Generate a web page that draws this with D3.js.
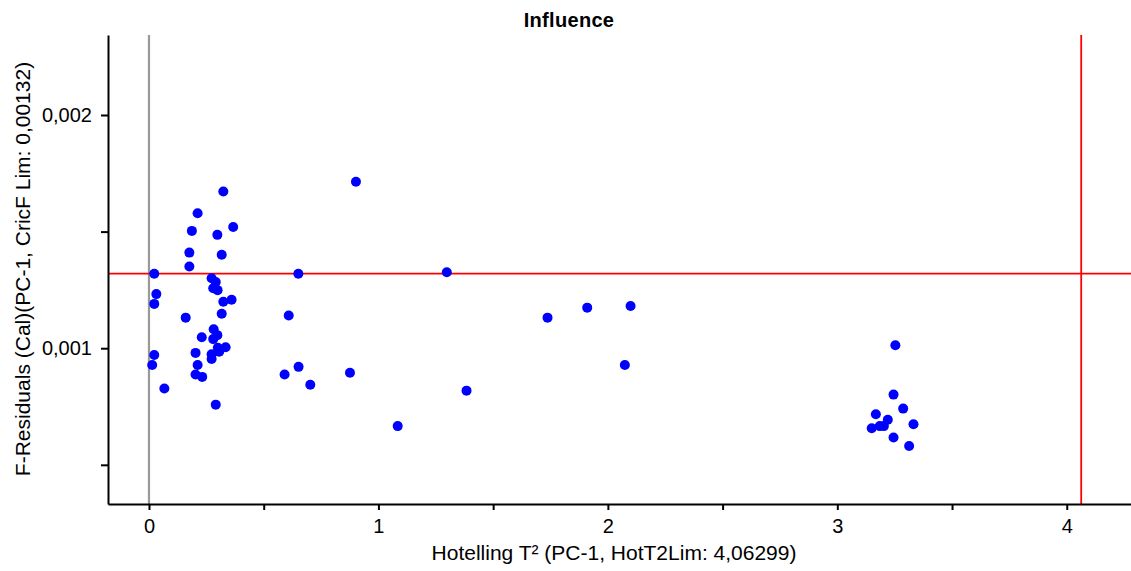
<!DOCTYPE html>
<html>
<head>
<meta charset="utf-8">
<script src="https://cdn.jsdelivr.net/npm/d3@7"></script>
<style>
  body { margin: 0; background: #fff; }
  svg text { font-family: "Liberation Sans", Arial, sans-serif; fill: #000; }
  .axis path, .axis line { stroke: #000; stroke-width: 2; }
  .axis text { font-size: 20px; }
</style>
</head>
<body>
<div id="chart"></div>
<script>
// Hotelling T² (x) and F-residuals (y) per sample
const hotT2 = [
  0.902, 0.324, 0.212, 0.367, 0.187, 0.298, 0.176, 0.317, 0.176, 0.023,
  0.651, 0.273, 0.291, 0.280, 0.299, 0.032, 0.360, 0.324, 0.023, 0.317,
  0.160, 0.609, 0.282, 0.298, 0.230, 0.280, 0.334, 0.306, 0.300, 0.023,
  0.203, 0.273, 0.273, 0.014, 0.212, 0.652, 0.203, 0.232, 0.591, 0.876,
  0.703, 0.067, 0.291, 1.298, 1.737, 1.910, 2.099, 1.384, 1.084, 2.074,
  3.253, 3.245, 3.287, 3.168, 3.220, 3.332, 3.150, 3.185, 3.203, 3.245,
  3.313
];
const fResid = [
  0.001714, 0.001672, 0.001579, 0.001520, 0.001503, 0.001486, 0.001410, 0.001401, 0.001350, 0.001319,
  0.001319, 0.001300, 0.001284, 0.001257, 0.001249, 0.001232, 0.001208, 0.001199, 0.001190, 0.001148,
  0.001131, 0.001140, 0.001081, 0.001056, 0.001047, 0.001039, 0.001004, 0.000985, 0.001002, 0.000971,
  0.000980, 0.000974, 0.000954, 0.000928, 0.000928, 0.000920, 0.000887, 0.000877, 0.000887, 0.000895,
  0.000843, 0.000827, 0.000758, 0.001326, 0.001131, 0.001174, 0.001181, 0.000818, 0.000666, 0.000928,
  0.001013, 0.000801, 0.000741, 0.000717, 0.000693, 0.000674, 0.000657, 0.000666, 0.000666, 0.000617,
  0.000581
];
const hotT2Lim = 4.06299;
const fResLim = 0.00132;
const xDomain = [-0.1786, 4.28];
const yDomain = [0.000332, 0.002343];
const xTicks = [0, 0.5, 1, 1.5, 2, 2.5, 3, 3.5, 4];
const yTicks = [0.0005, 0.001, 0.0015, 0.002];

const W = 1131, H = 571;
const margin = {top: 35, right: 0, bottom: 67, left: 108};
const width = W - margin.left - margin.right;
const height = H - margin.top - margin.bottom;

const svg = d3.select("#chart").append("svg")
  .attr("width", W).attr("height", H);
const g = svg.append("g")
  .attr("transform", "translate(" + margin.left + "," + margin.top + ")");

const x = d3.scaleLinear().domain(xDomain).range([0, width]);
const y = d3.scaleLinear().domain(yDomain).range([height, 0]);

// only whole numbers get a label, the half steps are bare ticks
const fmtX = d => Number.isInteger(d) ? String(d) : "";
const fmtY = d => (Math.abs(d * 1000 - Math.round(d * 1000)) < 1e-9) ? d3.format(".3f")(d).replace(".", ",") : "";

// reference lines
g.append("line")
  .attr("x1", x(0)).attr("x2", x(0)).attr("y1", 0).attr("y2", height)
  .attr("stroke", "#999").attr("stroke-width", 2.2);
g.append("line")
  .attr("x1", x(hotT2Lim)).attr("x2", x(hotT2Lim)).attr("y1", 0).attr("y2", height)
  .attr("stroke", "#ff0000").attr("stroke-width", 1.8);
g.append("line")
  .attr("x1", 0).attr("x2", width).attr("y1", y(fResLim)).attr("y2", y(fResLim))
  .attr("stroke", "#ff0000").attr("stroke-width", 1.8);

// axes
g.append("g").attr("class", "axis")
  .attr("transform", "translate(0," + height + ")")
  .call(d3.axisBottom(x).tickValues(xTicks).tickFormat(fmtX).tickSize(6).tickSizeOuter(0).tickPadding(9));
g.append("g").attr("class", "axis")
  .call(d3.axisLeft(y).tickValues(yTicks).tickFormat(fmtY).tickSize(7).tickSizeOuter(0).tickPadding(9));

// points
g.selectAll("circle.pt")
  .data(hotT2.map((v, i) => ({x: v, y: fResid[i]})))
  .enter().append("circle")
  .attr("class", "pt")
  .attr("cx", d => x(d.x))
  .attr("cy", d => y(d.y))
  .attr("r", 5)
  .attr("fill", "#0000ff");

// labels
svg.append("text")
  .attr("x", 569).attr("y", 27)
  .attr("text-anchor", "middle")
  .style("font-size", "20px")
  .style("font-weight", "bold")
  .style("letter-spacing", "0.3px")
  .text("Influence");

svg.append("text")
  .attr("x", 614).attr("y", 560)
  .attr("text-anchor", "middle")
  .style("font-size", "21px")
  .text("Hotelling T² (PC-1, HotT2Lim: 4,06299)");

svg.append("text")
  .attr("transform", "translate(30,269) rotate(-90)")
  .attr("text-anchor", "middle")
  .style("font-size", "21px")
  .text("F-Residuals (Cal)(PC-1, CricF Lim: 0,00132)");
</script>
</body>
</html>
